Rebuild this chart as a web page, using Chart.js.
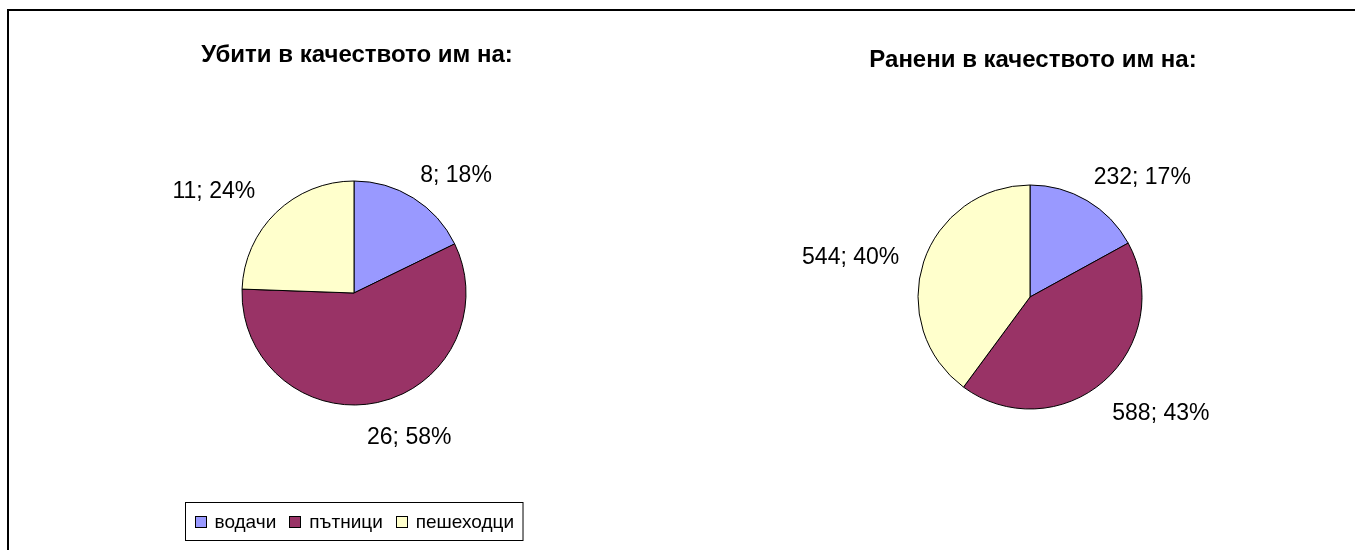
<!DOCTYPE html>
<html>
<head>
<meta charset="utf-8">
<script src="https://cdn.jsdelivr.net/npm/chart.js@4/dist/chart.umd.min.js"></script>
<style>
  html, body { margin: 0; padding: 0; background: #fff; }
  body { width: 1355px; height: 550px; position: relative; overflow: hidden; }
  #frame { position: absolute; left: 7px; top: 9px; width: 1400px; height: 600px;
           border-left: 2px solid #000; border-top: 2px solid #000; }
  .holder { position: absolute; top: 0; height: 550px; }
  canvas { display: block; }
</style>
</head>
<body>
<div id="frame"></div>
<div class="holder" style="left:0px;width:708px;"><canvas id="killed" width="708" height="550"></canvas></div>
<div class="holder" style="left:705px;width:650px;"><canvas id="injured" width="650" height="550"></canvas></div>
<script>
// ---- data ----
const categories = ['водачи', 'пътници', 'пешеходци'];
const killedValues = [8, 26, 11];
const injuredValues = [232, 588, 544];
const killedTitle = 'Убити в качеството им на:';
const injuredTitle = 'Ранени в качеството им на:';
const sliceColors = ['#9999FF', '#993366', '#FFFFCC'];

const FONT = '"Liberation Sans", Arial, sans-serif';
const clamp = (v, a, b) => Math.max(a, Math.min(b, v));

const decorPlugin = {
  id: 'pieDecor',
  afterDatasetsDraw(chart, args, opts) {
    const ctx = chart.ctx;
    const ds = chart.data.datasets[0];
    const meta = chart.getDatasetMeta(0);
    const total = ds.data.reduce((a, b) => a + b, 0);
    ctx.save();
    // data labels ("value; percent") placed outside each slice
    ctx.font = opts.labelSize + 'px ' + FONT;
    ctx.fillStyle = '#000';
    ctx.textAlign = 'center';
    ctx.textBaseline = 'middle';
    meta.data.forEach((arc, i) => {
      const p = arc.getProps(['x', 'y', 'startAngle', 'endAngle', 'outerRadius'], true);
      const mid = (p.startAngle + p.endAngle) / 2;
      const dx = Math.cos(mid), dy = Math.sin(mid);
      const txt = ds.data[i] + '; ' + Math.round(ds.data[i] / total * 100) + '%';
      const w = ctx.measureText(txt).width;
      const h = opts.labelSize;
      const R = p.outerRadius + opts.gap;
      const ax = Math.sign(dx) * clamp(Math.abs(dx) / 0.3, 0, 1);
      const sy = Math.sign(dy) * clamp((Math.abs(dy) - 0.35) / 0.3, 0, 1);
      const px = dx < 0 ? 12 * Math.abs(ax) : 0;
      const py = dy > 0 ? 11 * Math.abs(sy) : 0;
      const cx = p.x + dx * R + ax * w / 2 + Math.sign(dx) * px;
      const cy = p.y + dy * R + sy * h / 2 + py;
      ctx.fillText(txt, cx, cy);
    });
    // title
    const ca = chart.chartArea;
    const centerX = (ca.left + ca.right) / 2;
    ctx.font = 'bold ' + opts.titleSize + 'px ' + FONT;
    ctx.textBaseline = 'alphabetic';
    ctx.fillText(opts.title, centerX + 3, opts.titleY);
    // legend
    if (opts.showLegend) {
      ctx.font = opts.legendSize + 'px ' + FONT;
      const sq = 12, gapTxt = 8, gapItem = 13, pad = 9;
      const widths = chart.data.labels.map(l => ctx.measureText(l).width);
      let totalW = 0;
      widths.forEach((w, i) => { totalW += sq + gapTxt + w + (i < widths.length - 1 ? gapItem : 0); });
      const boxW = totalW + pad * 2, boxH = 38;
      const bx = Math.round(centerX - boxW / 2) + 0.5, by = opts.legendY + 0.5;
      ctx.strokeStyle = '#000'; ctx.lineWidth = 1;
      ctx.strokeRect(bx, by, boxW, boxH);
      let x = bx + pad;
      const cyL = by + boxH / 2;
      ctx.textAlign = 'left';
      ctx.textBaseline = 'middle';
      chart.data.labels.forEach((l, i) => {
        ctx.fillStyle = ds.backgroundColor[i];
        ctx.fillRect(Math.round(x), Math.round(cyL - sq / 2), sq, sq);
        ctx.strokeStyle = '#000';
        ctx.strokeRect(Math.round(x) + 0.5, Math.round(cyL - sq / 2) + 0.5, sq - 1, sq - 1);
        ctx.fillStyle = '#000';
        ctx.fillText(l, x + sq + gapTxt, cyL + 1);
        x += sq + gapTxt + widths[i] + gapItem;
      });
    }
    ctx.restore();
  }
};

function makePie(id, values, title, padTop, titleY, showLegend) {
  return new Chart(document.getElementById(id), {
    type: 'pie',
    data: {
      labels: categories,
      datasets: [{
        data: values,
        backgroundColor: sliceColors,
        borderColor: '#000',
        borderWidth: 1,
        radius: 112
      }]
    },
    options: {
      responsive: false,
      devicePixelRatio: 1,
      animation: false,
      layout: { padding: { top: padTop, bottom: 0, left: 0, right: 0 } },
      plugins: {
        legend: { display: false },
        title: { display: false },
        tooltip: { enabled: false },
        pieDecor: {
          title: title, titleY: titleY, titleSize: 24,
          labelSize: 23, gap: 13,
          showLegend: showLegend, legendSize: 19, legendY: 502
        }
      }
    },
    plugins: [decorPlugin]
  });
}

makePie('killed', killedValues, killedTitle, 36, 62, true);
makePie('injured', injuredValues, injuredTitle, 44, 67, false);
</script>
</body>
</html>
